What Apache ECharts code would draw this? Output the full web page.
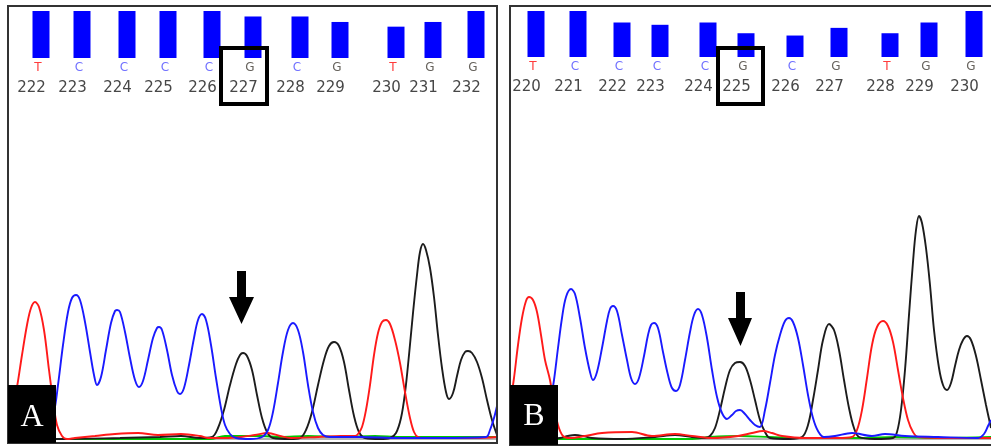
<!DOCTYPE html>
<html><head><meta charset="utf-8">
<script src="https://cdn.jsdelivr.net/npm/echarts/dist/echarts.min.js"></script>
<style>html,body{margin:0;padding:0;background:#fff}#c{width:991px;height:448px}</style>
</head><body><div id="c"></div>
<script>
// ---------- Panel A data ----------
const aBasePos = [33, 74, 119, 160, 204, 245, 292, 332, 388, 425, 468];
const aQuality = [60, 60, 60, 60, 60, 53, 53, 46, 40, 46, 60];
const aBases = ['T','C','C','C','C','G','C','G','T','G','G'];
const aNumbers = ['222','223','224','225','226','227','228','229','230','231','232'];
const aGreen = [[0,0],[48,0],[202,0],[217,30],[237,30],[253,30],[272,20],[300,30],[332,20],[367,30],[392,20],[417,20],[452,20],[489,20]];
const aRed = [[0,140],[5,340],[9,520],[14,840],[19,1140],[23,1310],[27,1370],[31,1320],[36,1090],[41,690],[45,390],[49,140],[54,30],[59,0],[67,10],[87,30],[107,50],[130,60],[150,40],[173,50],[192,30],[200,10],[217,10],[233,20],[247,40],[260,60],[272,30],[283,10],[310,20],[333,30],[347,30],[350,50],[354,120],[358,290],[362,540],[366,840],[370,1060],[374,1170],[378,1190],[382,1150],[387,990],[392,760],[397,470],[402,210],[406,70],[410,20],[417,10],[442,10],[467,10],[489,20]];
const aBlack = [[0,0],[48,0],[112,10],[152,20],[173,30],[192,10],[204,20],[210,110],[216,290],[222,540],[228,750],[232,840],[235,860],[239,830],[244,690],[249,440],[254,210],[259,70],[265,10],[282,0],[292,10],[298,90],[304,270],[310,540],[316,790],[321,930],[326,970],[331,930],[336,770],[341,490],[346,230],[351,70],[357,10],[372,0],[382,10],[388,60],[393,210],[397,460],[401,840],[405,1260],[409,1640],[412,1870],[415,1950],[418,1890],[422,1710],[426,1420],[430,1040],[434,710],[438,470],[441,400],[445,460],[449,630],[453,790],[457,870],[460,880],[464,860],[469,770],[474,610],[479,390],[484,190],[489,40]];
const aBlue = [[0,0],[22,0],[32,20],[40,90],[46,270],[50,540],[55,940],[60,1270],[64,1410],[68,1440],[72,1390],[77,1170],[82,870],[86,640],[89,540],[93,620],[98,890],[103,1160],[107,1280],[109,1290],[112,1270],[117,1070],[122,810],[127,590],[131,520],[135,580],[140,790],[145,1010],[149,1110],[151,1120],[154,1090],[159,890],[164,640],[169,480],[172,450],[176,510],[181,740],[186,1010],[190,1190],[194,1250],[198,1190],[203,940],[208,610],[213,310],[217,140],[222,50],[228,10],[242,0],[254,20],[260,90],[265,270],[270,560],[275,870],[280,1090],[285,1160],[290,1090],[295,870],[300,540],[305,270],[310,110],[315,40],[322,20],[352,20],[392,10],[432,10],[478,20],[482,90],[486,210],[489,330]];

// ---------- Panel B data ----------
const bBasePos = [26, 68, 112, 150, 198, 236, 285, 329, 380, 419, 464];
const bQuality = [60, 60, 45, 42, 45, 31, 28, 38, 31, 45, 60];
const bBases = ['T','C','C','C','C','G','C','G','T','G','G'];
const bNumbers = ['220','221','222','223','224','225','226','227','228','229','230'];
const bGreen = [[0,0],[50,0],[180,0],[200,20],[230,30],[260,20],[290,10],[350,10],[385,20],[430,10],[481,20]];
const bRed = [[0,340],[4,610],[8,940],[12,1210],[16,1380],[19,1420],[23,1390],[27,1270],[31,1040],[35,790],[40,590],[44,340],[48,140],[53,30],[60,10],[75,30],[92,60],[122,70],[142,30],[165,50],[182,30],[202,10],[228,30],[242,60],[253,80],[262,60],[272,30],[295,10],[328,10],[342,20],[347,90],[352,290],[357,610],[362,940],[367,1120],[373,1180],[378,1130],[383,970],[388,690],[393,410],[398,190],[403,70],[408,20],[440,10],[481,10]];
const bBlack = [[0,0],[35,0],[50,10],[58,30],[65,40],[73,30],[82,10],[112,0],[145,20],[165,40],[182,20],[195,10],[200,30],[205,110],[210,290],[215,510],[220,690],[225,760],[230,770],[235,730],[240,590],[245,390],[250,190],[255,70],[260,10],[280,0],[292,20],[298,140],[303,390],[308,690],[313,990],[319,1150],[324,1090],[329,890],[334,590],[339,310],[344,110],[349,20],[365,0],[383,10],[387,70],[391,290],[395,690],[399,1240],[403,1770],[406,2090],[409,2230],[412,2160],[416,1910],[420,1540],[424,1090],[429,710],[433,540],[437,490],[441,560],[445,730],[449,890],[453,990],[457,1030],[461,990],[466,830],[471,590],[476,340],[481,110]];
const bBlue = [[0,0],[30,10],[35,90],[40,340],[44,590],[48,910],[52,1210],[56,1420],[61,1500],[65,1450],[70,1210],[75,910],[80,670],[83,590],[87,670],[92,910],[97,1180],[100,1300],[103,1330],[107,1280],[112,1040],[117,790],[121,610],[125,550],[129,610],[134,830],[138,1040],[141,1140],[144,1160],[148,1110],[153,870],[158,640],[162,510],[166,480],[170,540],[175,790],[180,1070],[184,1240],[188,1300],[192,1240],[197,1010],[202,690],[207,420],[212,260],[217,200],[222,240],[226,280],[230,290],[235,250],[240,190],[245,140],[250,120],[255,290],[260,560],[265,840],[270,1040],[275,1180],[279,1210],[283,1170],[288,1010],[293,740],[298,440],[303,210],[308,80],[314,20],[325,30],[342,60],[362,30],[375,50],[395,30],[428,20],[468,10],[474,50],[478,130],[481,190]];

const panelLabels = ['A', 'B'];

const chart = echarts.init(document.getElementById('c'), null, {renderer: 'canvas'});

const baseColors = {T: '#ff3b3b', C: '#7070ff', G: '#66625c'};
const letterStyle = c => ({color: c, fontSize: 12, lineHeight: 13, fontFamily: 'DejaVu Sans', align: 'center'});
const rich = {
  T: letterStyle(baseColors.T),
  C: letterStyle(baseColors.C),
  G: letterStyle(baseColors.G),
  n: {color: '#474747', fontSize: 15, lineHeight: 28, fontFamily: 'DejaVu Sans', align: 'center', padding: [0, 13, 0, 0]}
};

function barSeries(pos, qual, bases, nums, xi) {
  return {
    type: 'bar', xAxisIndex: xi, yAxisIndex: xi, barWidth: 17,
    itemStyle: {color: '#0000ff'},
    data: pos.map((p, i) => [p, qual[i]]),
    label: {
      show: true, position: 'bottom', distance: 3, offset: [-3, 0],
      formatter: p => '{' + bases[p.dataIndex] + '|' + bases[p.dataIndex] + '}\n{n|' + nums[p.dataIndex] + '}',
      rich: rich
    }
  };
}
function trace(data, color, xi) {
  return {
    type: 'line', xAxisIndex: xi, yAxisIndex: xi, data: data,
    showSymbol: false, symbol: 'none', smooth: 0.35, clip: true,
    lineStyle: {color: color, width: 1.9}
  };
}
const hidden = {show: false};
function xAx(gi, max, showLine) {
  return {type: 'value', gridIndex: gi, min: 0, max: max,
    axisLine: {show: !!showLine, lineStyle: {color: '#b4b4b4', width: 2}},
    axisTick: hidden, axisLabel: hidden, splitLine: hidden};
}
function yAx(gi, max) {
  return {type: 'value', gridIndex: gi, min: 0, max: max, show: false, splitLine: hidden};
}

const option = {
  animation: false,
  backgroundColor: '#ffffff',
  grid: [
    {left: 8, width: 489, top: 11, height: 47},
    {left: 8, width: 489, top: 120, bottom: 9},
    {left: 510, width: 481, top: 11, height: 46},
    {left: 510, width: 481, top: 120, bottom: 9}
  ],
  xAxis: [xAx(0, 489), xAx(1, 489, true), xAx(2, 481), xAx(3, 481, true)],
  yAxis: [yAx(0, 60), yAx(1, 3190), yAx(2, 60), yAx(3, 3190)],
  series: [
    barSeries(aBasePos, aQuality, aBases, aNumbers, 0),
    trace(aGreen, '#00c800', 1), trace(aBlack, '#1c1c1c', 1), trace(aRed, '#ff1a1a', 1), trace(aBlue, '#1a1aff', 1),
    barSeries(bBasePos, bQuality, bBases, bNumbers, 2),
    trace(bGreen, '#00c800', 3), trace(bBlack, '#1c1c1c', 3), trace(bRed, '#ff1a1a', 3), trace(bBlue, '#1a1aff', 3)
  ],
  graphic: [
    {type: 'rect', z: 50, shape: {x: 8, y: 6, width: 489, height: 437}, style: {fill: 'none', stroke: '#333', lineWidth: 2}},
    {type: 'rect', z: 50, shape: {x: 510, y: 6, width: 500, height: 439}, style: {fill: 'none', stroke: '#333', lineWidth: 2}},
    {type: 'rect', z: 60, shape: {x: 221, y: 48, width: 46, height: 56}, style: {fill: 'none', stroke: '#000', lineWidth: 4}},
    {type: 'rect', z: 60, shape: {x: 718, y: 48, width: 45, height: 56}, style: {fill: 'none', stroke: '#000', lineWidth: 4}},
    {type: 'polygon', z: 60, shape: {points: [[237,271],[246,271],[246,297],[254,297],[241.5,324],[229,297],[237,297]]}, style: {fill: '#000'}},
    {type: 'polygon', z: 60, shape: {points: [[736,292],[745,292],[745,318],[752,318],[740.5,346],[728,318],[736,318]]}, style: {fill: '#000'}},
    {type: 'rect', z: 70, shape: {x: 8, y: 385, width: 48, height: 58}, style: {fill: '#000'}},
    {type: 'rect', z: 70, shape: {x: 510, y: 385, width: 48, height: 60}, style: {fill: '#000'}},
    {type: 'text', z: 71, x: 32, y: 418, style: {text: panelLabels[0], fill: '#fff', font: '32px "Liberation Serif"', textAlign: 'center', textVerticalAlign: 'middle'}},
    {type: 'text', z: 71, x: 534, y: 417, style: {text: panelLabels[1], fill: '#fff', font: '32px "Liberation Serif"', textAlign: 'center', textVerticalAlign: 'middle'}}
  ]
};
chart.setOption(option);
</script>
</body></html>
